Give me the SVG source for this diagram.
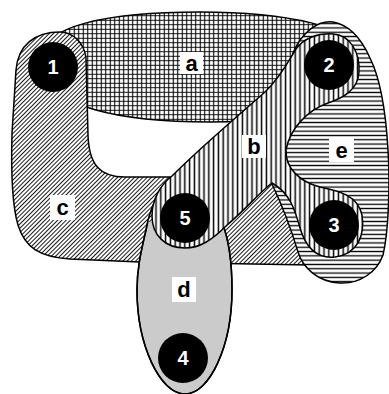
<svg xmlns="http://www.w3.org/2000/svg" width="389" height="394" viewBox="0 0 389 394">
  <style>
    .outline { stroke: #000; stroke-width: 1.5; stroke-linejoin: round; }
    .node { fill: #000; }
    .ntext { fill: #fff; font-family: "Liberation Sans", Arial, sans-serif; font-weight: bold; font-size: 20px; text-anchor: middle; dominant-baseline: central; }
    .lbox { fill: #fff; }
    .ltext { fill: #000; font-family: "Liberation Sans", Arial, sans-serif; font-weight: bold; font-size: 22px; text-anchor: middle; dominant-baseline: central; }
  </style>
  <defs>
    <pattern id="patA" patternUnits="userSpaceOnUse" width="4.5" height="4.5">
      <rect width="4.5" height="4.5" fill="#fff"/>
      <path d="M2.25,0V4.5M0,2.25H4.5" stroke="#000" stroke-width="1.1"/>
    </pattern>
    <pattern id="patB" patternUnits="userSpaceOnUse" width="4.8" height="4.8">
      <rect width="4.8" height="4.8" fill="#fff"/>
      <path d="M2.4,0V4.8" stroke="#000" stroke-width="1.5"/>
    </pattern>
    <pattern id="patE" patternUnits="userSpaceOnUse" width="4.3" height="4.3">
      <rect width="4.3" height="4.3" fill="#fff"/>
      <path d="M0,2.15H4.3" stroke="#000" stroke-width="1.3"/>
    </pattern>
    <pattern id="patC" patternUnits="userSpaceOnUse" width="3" height="3" patternTransform="rotate(45)">
      <rect width="3" height="3" fill="#fff"/>
      <path d="M1.5,0V3" stroke="#000" stroke-width="0.9"/>
    </pattern>
    <path id="dShape" d="M173,177 C158,190 150,208 146,230 C141,252 137,268 137,290 C137,345 160,394 185,394 C210,394 232,345 232,290 C232,262 229,240 222,222 L195,178 Z"/>
    <clipPath id="dClip"><use href="#dShape"/></clipPath>
  </defs>

  <g id="hyperedges">
    <g id="edge-a">
      <path class="outline" fill="url(#patA)" d="M40,60 C40,25 110,12 200,12 C280,12 360,25 370,60 C380,100 300,122 210,122 C130,122 40,110 40,60 Z"/>
    </g>
    <g id="edge-c">
      <path class="outline" fill="url(#patC)" d="M60,32 C72,32 84,42 86,58 L88,135 C89,165 100,177 125,177 L272,177 L292,186 L310,265 L140,262 L70,259 C40,257 25,248 18,225 C12,205 11,170 12,133 L16,70 C18,45 35,32 60,32 Z"/>
    </g>
    <g id="edge-d">
      <use href="#dShape" class="outline" fill="#cbcbcb"/>
      <rect x="138" y="168" width="45" height="54" fill="url(#patC)" clip-path="url(#dClip)"/>
      <use href="#dShape" class="outline" fill="none"/>
    </g>
    <g id="edge-e">
      <path class="outline" fill="url(#patE)" d="M272,184 C282,205 292,232 298,252 C303,268 318,282 340,283 C360,284 377,272 383,255 C389,230 390,180 388,150 C386,115 381,80 370,58 C362,40 350,25 333,22 C318,20 302,32 293,53 Z"/>
    </g>
    <g id="edge-b">
      <path class="outline" fill="url(#patB)" d="M172,176 C205,143 245,110 265,92 C280,78 288,62 296,49 C304,38 318,33 333,34 C350,35 360,52 359,72 C358,90 343,98 328,103 C308,110 290,128 286,150 C285,168 300,182 320,187 C340,191 358,196 362,215 C365,235 358,254 335,257 C315,259 305,245 300,228 C295,210 290,193 272,183 C262,190 245,210 226,226 C212,240 200,248 185,248 C165,248 152,235 152,216 C152,200 160,185 172,176 Z"/>
    </g>
  </g>

  <g id="labels">
    <g id="label-a"><rect class="lbox" x="180" y="52" width="23" height="22"/><text class="ltext" x="191.5" y="63">a</text></g>
    <g id="label-b"><rect class="lbox" x="242" y="135" width="24" height="23"/><text class="ltext" x="254" y="146.5">b</text></g>
    <g id="label-e"><rect class="lbox" x="329" y="138" width="25" height="24"/><text class="ltext" x="341.5" y="150">e</text></g>
    <g id="label-c"><rect class="lbox" x="50" y="195" width="25" height="25"/><text class="ltext" x="62.5" y="207.5">c</text></g>
    <g id="label-d"><rect class="lbox" x="172" y="277" width="24" height="25"/><text class="ltext" x="184" y="289.5">d</text></g>
  </g>

  <g id="node1"><circle class="node" cx="53" cy="67" r="25"/><text class="ntext" x="53" y="67">1</text></g>
  <g id="node2"><circle class="node" cx="329" cy="65" r="25"/><text class="ntext" x="329" y="65">2</text></g>
  <g id="node3"><circle class="node" cx="334" cy="225" r="25"/><text class="ntext" x="334" y="225">3</text></g>
  <g id="node4"><circle class="node" cx="183" cy="358" r="25"/><text class="ntext" x="183" y="358">4</text></g>
  <g id="node5"><circle class="node" cx="185" cy="218" r="25"/><text class="ntext" x="185" y="218">5</text></g>
</svg>
